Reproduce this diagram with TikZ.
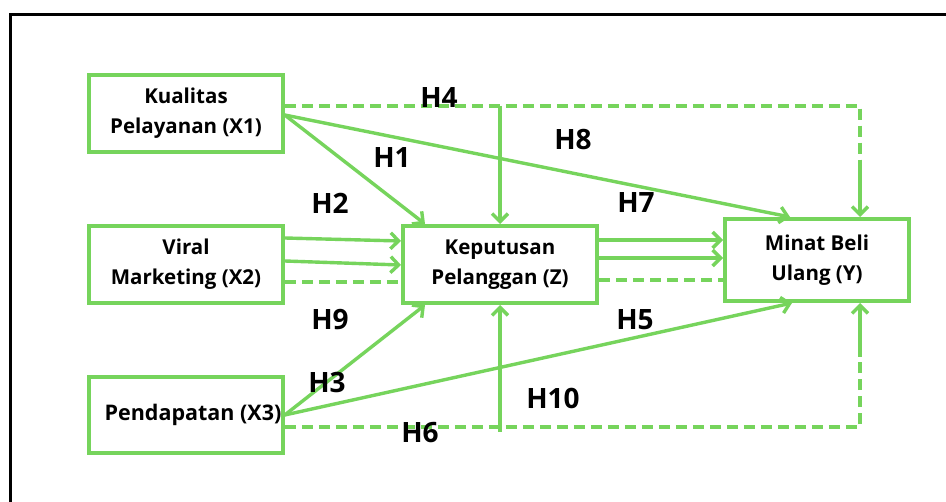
\documentclass[tikz,border=0pt]{standalone}
\usepackage{fontspec}
\setmainfont{Open Sans}
\usetikzlibrary{arrows.meta,calc}
\definecolor{lgreen}{RGB}{118,212,92}
\tikzset{
  box/.style={draw=lgreen, line width=4pt, fill=white, align=center, inner sep=0pt,
    font=\fontsize{20.5}{30}\selectfont\bfseries, text=black},
  hlab/.style={font=\fontsize{28}{30}\selectfont\bfseries, text=black, inner sep=0pt},
  conn/.style={draw=lgreen, line width=3.4pt},
  arr/.style={conn, -{Straight Barb[length=8pt,width=16pt]}},
  dconn/.style={conn, dash pattern=on 11pt off 6pt},
}
\begin{document}
\begin{tikzpicture}[x=1pt,y=-1pt]
\clip (0,0) rectangle (946,502);
\fill[white] (0,0) rectangle (946,502);
\draw[line width=3.5pt, black] (10.5,520) -- (10.5,14.5) -- (960,14.5);

% nodes
\node[box, minimum width=193.5pt, minimum height=77pt] (X1) at (186,113.5) {Kualitas\\Pelayanan (X1)};
\node[box, minimum width=193.5pt, minimum height=77pt] (X2) at (186,264.5) {Viral\\Marketing (X2)};
\node[box, minimum width=193.5pt, minimum height=76pt, font=\fontsize{21.5}{30}\selectfont\bfseries] (X3) at (186,415) {\hspace*{14pt}Pendapatan (X3)};
\node[box, minimum width=194pt, minimum height=77pt] (Z) at (500,264.5) {Keputusan\\Pelanggan (Z)};
\node[box, minimum width=184pt, minimum height=82pt] (Y) at (817,260) {Minat Beli\\Ulang (Y)};

% helper coordinates
\coordinate (x1a) at ($(X1.east)+(0,1.5)$);
\coordinate (x1d) at ($(X1.east)+(0,-7.5)$);
\coordinate (m4) at (500,106);
\coordinate (c4) at (860,106);
\coordinate (c4b) at (860,160);
\coordinate (x3a) at (X3.east);
\coordinate (x3d) at ($(X3.east)+(0,12)$);
\coordinate (c6) at (860,427);
\coordinate (c6b) at (860,357);
\coordinate (m6) at (500,432);

% H4 dashed path to Y
\draw[dconn] (x1d) -- (c4) -- (c4b);
\draw[arr] (c4b) -- (c4b |- Y.north);
\draw[arr] (m4) -- (Z.north);

% H1, H8
\draw[arr] (x1a) -- ($(Z.north west)+(24,0)$);
\draw[arr] (x1a) -- ($(Y.north west)+(67,0)$);

% X2 -> Z
\draw[arr] ($(X2.east)+(0,-26.5)$) -- ($(Z.west)+(0,-23.5)$);
\draw[arr] ($(X2.east)+(0,-3.5)$) -- ($(Z.west)+(0,0.5)$);
\draw[dconn] ($(X2.east)+(0,17.5)$) -- ($(Z.west)+(0,17.5)$);

% Z -> Y
\draw[arr] ($(Z.east)+(0,-24.5)$) -- (Y.west |- {$(Z.east)+(0,-24.5)$});
\draw[arr] ($(Z.east)+(0,-6.5)$) -- (Y.west |- {$(Z.east)+(0,-6.5)$});
\draw[dconn] ($(Z.east)+(0,15.5)$) -- (Y.west |- {$(Z.east)+(0,15.5)$});

% H3, H5
\draw[arr] (x3a) -- ($(Z.south west)+(24,0)$);
\draw[arr] (x3a) -- ($(Y.south west)+(69,0)$);

% H6 dashed
\draw[dconn] (x3d) -- (c6) -- (c6b);
\draw[arr] (c6b) -- (c6b |- Y.south);
\draw[arr] (m6) -- (Z.south);

% labels
\node[hlab] (H4) at (439,98) {H4};
\node[hlab] (H8) at (573,140) {H8};
\node[hlab] (H1) at (392,158) {H1};
\node[hlab] (H2) at (330,203) {H2};
\node[hlab] (H7) at (636,203) {H7};
\node[hlab] (H9) at (330,320) {H9};
\node[hlab] (H5) at (635,320) {H5};
\node[hlab] (H3) at (327,383) {H3};
\node[hlab] (H10) at (553,398) {H10};
\node[hlab] (H6) at (420,433) {H6};
\end{tikzpicture}
\end{document}
